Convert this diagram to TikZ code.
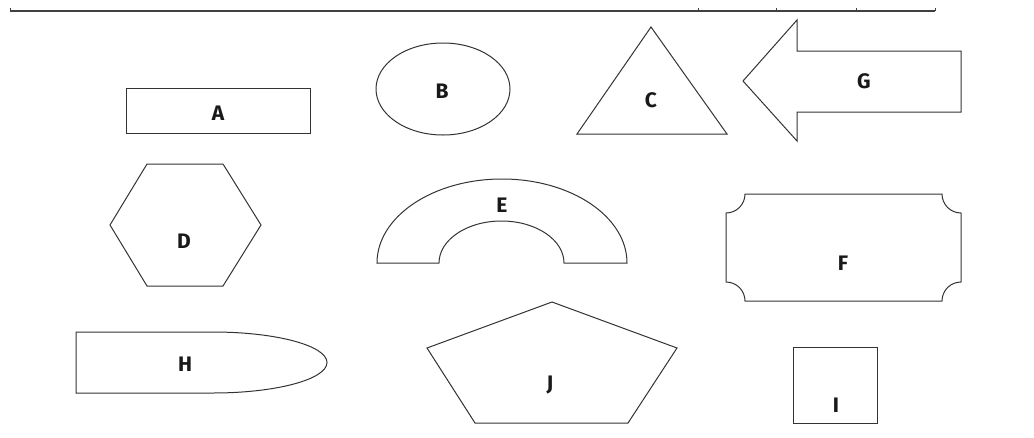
\documentclass[tikz,border=0pt]{standalone}
\usepackage{fontspec}
\setmainfont{Fira Sans}
\begin{document}
\begin{tikzpicture}[x=1pt,y=-1pt,
  shp/.style={draw=black!80,line width=1pt,line join=miter},
  lbl/.style={font=\fontsize{21}{21}\selectfont\bfseries,text=black!90,inner sep=0pt}]
\useasboundingbox (0,0) rectangle (1034,437);
% top rule
\draw[line width=1.3pt,black!75] (10,11) -- (935,11);
\foreach \x in {10,698,776,856,935} \draw[line width=0.8pt,black!75] (\x,11) -- (\x,8);
% A
\draw[shp] (126,88) rectangle (310,133);
\node[lbl] (lA) at (218,113) {A};
% B
\draw[shp] (443,89) ellipse [x radius=67,y radius=46];
\node[lbl] (lB) at (442,91) {B};
% C
\draw[shp] (651,27) -- (727,134) -- (577,134) -- cycle;
\node[lbl] (lC) at (651,100) {C};
% G
\draw[shp] (743,81) -- (797,20) -- (797,51) -- (961,51) -- (961,112) -- (797,112) -- (797,141) -- cycle;
\node[lbl] (lG) at (864,81) {G};
% D
\draw[shp] (110,225) -- (147,164) -- (223,164) -- (261,225) -- (223,286) -- (147,286) -- cycle;
\node[lbl] (lD) at (184,241) {D};
% E
\draw[shp] (377,263) arc[start angle=180,end angle=360,x radius=125,y radius=84]
  -- (564,263) arc[start angle=0,end angle=-180,x radius=62.5,y radius=42] -- cycle;
\node[lbl] (lE) at (502,205) {E};
% F
\draw[shp] (745,194) -- (942,194) arc[start angle=180,end angle=90,radius=19]
  -- (961,282) arc[start angle=270,end angle=180,radius=19]
  -- (745,301) arc[start angle=0,end angle=-90,radius=19]
  -- (726,213) arc[start angle=90,end angle=0,radius=19] -- cycle;
\node[lbl] (lF) at (843,263) {F};
% H
\draw[shp] (76,332) -- (213,332) arc[start angle=270,end angle=450,x radius=114,y radius=30.5] -- (76,393) -- cycle;
\node[lbl] (lH) at (185,364) {H};
% J
\draw[shp] (552,302) -- (677,348) -- (628,423) -- (475,423) -- (427,348) -- cycle;
\node[lbl] (lJ) at (550,385) {J};
% I
\draw[shp] (793,347) rectangle (877,423);
\node[lbl] (lI) at (836,405) {I};
\end{tikzpicture}
\end{document}
